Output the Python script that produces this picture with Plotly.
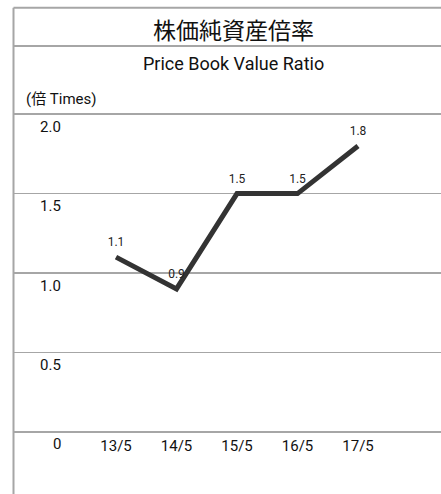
import plotly.graph_objects as go

# ---- data ----
categories = ["13/5", "14/5", "15/5", "16/5", "17/5"]
pbr_values = [1.1, 0.9, 1.5, 1.5, 1.8]
value_labels = ["1.1", "0.9", "1.5", "1.5", "1.8"]
y_tick_vals = [0, 0.5, 1.0, 1.5, 2.0]
y_tick_text = ["0", "0.5", "1.0", "1.5", "2.0"]
title_jp = "株価純資産倍率"
title_en = "Price Book Value Ratio"
unit_label = "(倍 Times)"

OFF = 0  # page body margin removed via post_script
W, H = 441, 494

# target page-pixel geometry
PAGE_LEFT = 14.0
PAGE_TOP_VAL = 114.0 - 0.02 * 158.8
PAGE_BOT_VAL = 431.7 + 0.02 * 158.8

ML = PAGE_LEFT - OFF
MR = 0
MT = PAGE_TOP_VAL - OFF
MB = H - (PAGE_BOT_VAL - OFF)
PW = W - ML - MR
PH = H - MT - MB

def px_x(x):  # page px -> paper x
    return (x - OFF - ML) / PW

def px_y(y):  # page px -> paper y
    return (H - MB - (y - OFF)) / PH

FONT = "Roboto, Liberation Sans, sans-serif"
CJK = "Noto Sans CJK JP, Noto Sans, sans-serif"
GRID = "#a6a6a6"

fig = go.Figure()
fig.add_trace(go.Scatter(
    x=categories, y=pbr_values, mode="lines+markers+text",
    text=value_labels, textposition="top center",
    textfont=dict(family=FONT, size=12, color="#222"),
    line=dict(color="#333333", width=5),
    marker=dict(size=11, color="rgba(0,0,0,0)"),
    cliponaxis=False, hoverinfo="skip", showlegend=False,
))

annotations = []
for v, t in zip(y_tick_vals, y_tick_text):
    annotations.append(dict(
        x=px_x(63), xref="paper", y=v, yref="y", text=t,
        xanchor="right", yanchor="middle", yshift=-12.5, showarrow=False,
        font=dict(family=FONT, size=15, color="#111"),
    ))
annotations.append(dict(x=px_x(233), y=px_y(29), xref="paper", yref="paper",
                        text=title_jp, showarrow=False, xanchor="center", yanchor="middle",
                        font=dict(family=CJK, size=23, color="#111")))
annotations.append(dict(x=px_x(233.5), y=px_y(63), xref="paper", yref="paper",
                        text=title_en, showarrow=False, xanchor="center", yanchor="middle",
                        font=dict(family=FONT, size=18, color="#111")))
annotations.append(dict(x=px_x(24), y=px_y(99), xref="paper", yref="paper",
                        text=unit_label, showarrow=False, xanchor="left", yanchor="middle",
                        font=dict(family=FONT + ", " + CJK, size=15, color="#111")))

shapes = [
    dict(type="line", xref="paper", yref="paper", x0=px_x(13.5), x1=px_x(13.5),
         y0=px_y(7.5), y1=px_y(500), line=dict(color=GRID, width=2)),
    dict(type="line", xref="paper", yref="paper", x0=px_x(13.5), x1=px_x(460),
         y0=px_y(7.5), y1=px_y(7.5), line=dict(color=GRID, width=2)),
    dict(type="line", xref="paper", yref="paper", x0=px_x(13.5), x1=px_x(460),
         y0=px_y(45.7), y1=px_y(45.7), line=dict(color=GRID, width=2)),
]

# category index 0 at page px 116, spacing 60.5 px
r0 = -(116 - PAGE_LEFT) / 60.5
r1 = r0 + PW / 60.5

fig.update_layout(
    width=W, height=H,
    margin=dict(l=ML, r=MR, t=MT, b=MB, pad=0),
    paper_bgcolor="white", plot_bgcolor="white",
    xaxis=dict(type="category", range=[r0, r1], showgrid=False, zeroline=False,
               showline=False, ticks="", tickfont=dict(family=FONT, size=15, color="#111"),
               fixedrange=True),
    yaxis=dict(range=[-0.02, 2.02], tickvals=y_tick_vals, showticklabels=False,
               showgrid=True, gridcolor=GRID, gridwidth=1.5, zeroline=True,
               zerolinecolor=GRID, zerolinewidth=1.5, showline=False, ticks="",
               fixedrange=True),
    annotations=annotations, shapes=shapes,
)

fig.write_html(
    "out.html",
    config={"displayModeBar": False, "staticPlot": True},
    post_script="document.documentElement.style.overflow='hidden';"
                "document.body.style.margin='0';document.body.style.overflow='hidden';",
)
